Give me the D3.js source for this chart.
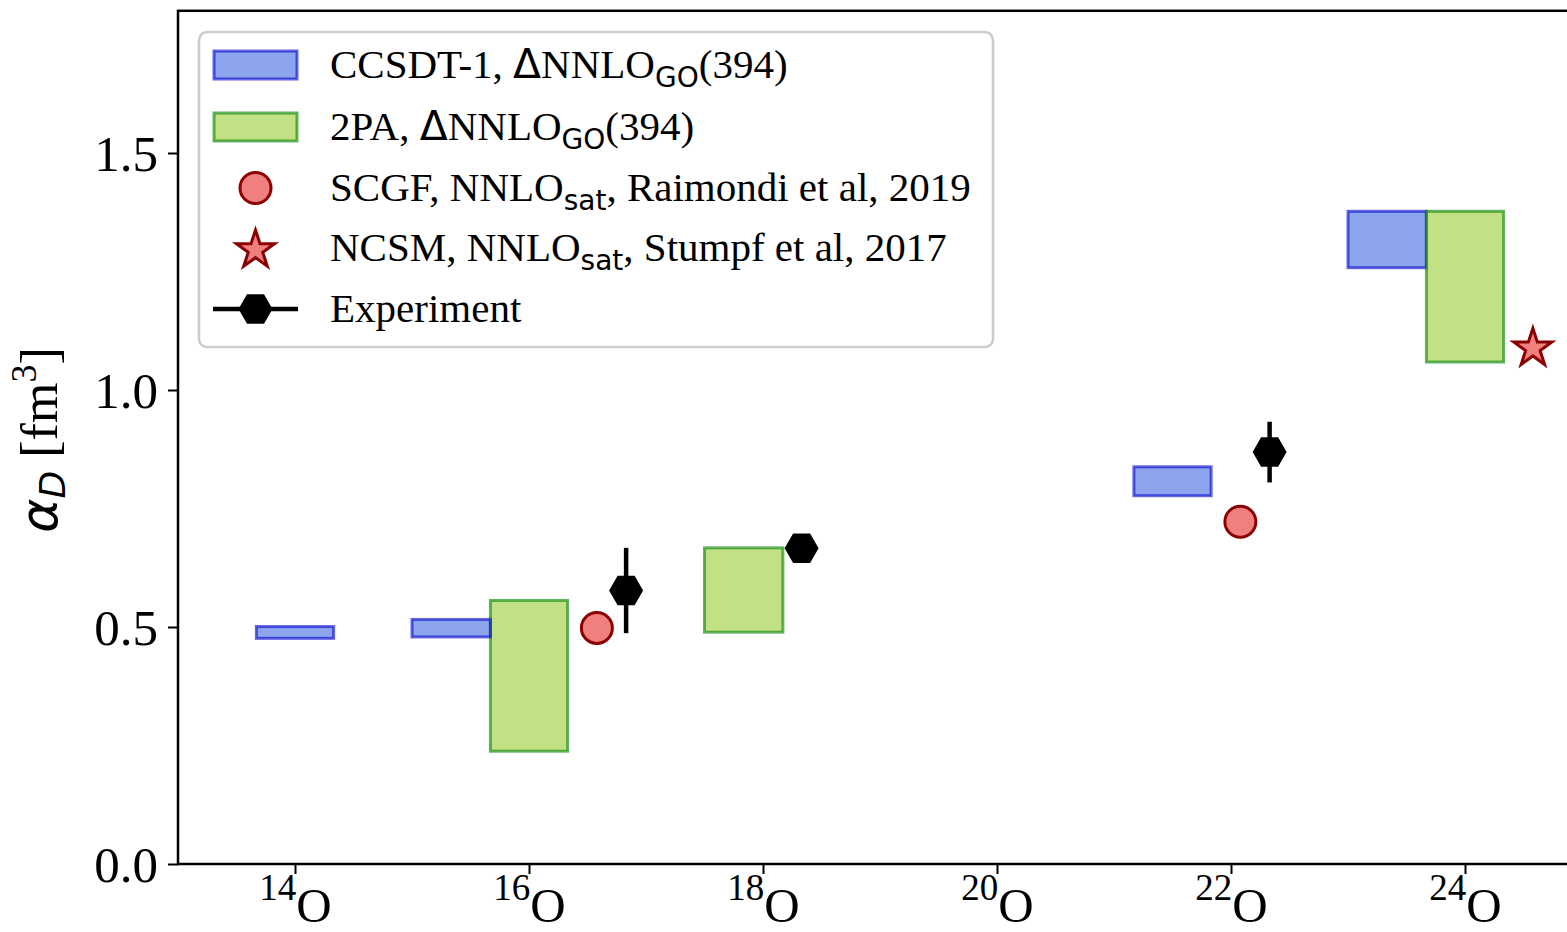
<!DOCTYPE html>
<html lang="en">
<head>
<meta charset="UTF-8">
<title>Dipole polarizability of oxygen isotopes</title>
<script src="https://d3js.org/d3.v7.min.js"></script>
<style>
    body { margin: 0; background: #fff; }
    svg { display: block; }
    .serif { font-family: "Liberation Serif", "Times New Roman", serif; }
    .sans { font-family: "DejaVu Sans", sans-serif; }
</style>
</head>
<body>
<div id="chart"></div>
<script>
    const width = 1567;
    const height = 932;

    // mass numbers shown on the x axis
    const massNumbers = [14, 16, 18, 20, 22, 24];
    const yTicks = [0.0, 0.5, 1.0, 1.5];

    // CCSDT-1 bands: x0, x1 (position on the A axis), lo, hi (fm^3)
    const ccsdt = [
        { x0: 13.67, x1: 14.33, lo: 0.476, hi: 0.501 },
        { x0: 15.00, x1: 15.67, lo: 0.479, hi: 0.516 },
        { x0: 21.17, x1: 21.83, lo: 0.777, hi: 0.838 },
        { x0: 23.00, x1: 23.67, lo: 1.258, hi: 1.377 }
    ];
    // 2PA bands
    const twoPA = [
        { x0: 15.67, x1: 16.33, lo: 0.238, hi: 0.556 },
        { x0: 17.50, x1: 18.17, lo: 0.489, hi: 0.667 },
        { x0: 23.67, x1: 24.33, lo: 1.059, hi: 1.377 }
    ];
    // SCGF, NNLOsat
    const scgf = [
        { x: 16.58, y: 0.498 },
        { x: 22.08, y: 0.722 }
    ];
    // NCSM, NNLOsat
    const ncsm = [
        { x: 24.58, y: 1.088 }
    ];
    // experiment with error
    const experiment = [
        { x: 16.83, y: 0.577, err: 0.090 },
        { x: 18.33, y: 0.666, err: 0.020 },
        { x: 22.33, y: 0.869, err: 0.064 }
    ];

    const margin = { left: 178, top: 11, bottom: 864 };
    const x = d3.scaleLinear().domain([13, 25]).range([margin.left, margin.left + 12 * 117]);
    const y = d3.scaleLinear().domain([0, 1.8]).range([margin.bottom, margin.bottom - 1.8 * 474]);

    const svg = d3.select('#chart').append('svg')
        .attr('width', width)
        .attr('height', height);

    const styles = {
        ccsdt: { fill: 'royalblue', stroke: 'mediumblue' },
        twoPA: { fill: 'yellowgreen', stroke: 'green' }
    };

    // boxes in the order they were layered in the original
    const boxes = [
        { s: 'twoPA', d: twoPA[0] },
        { s: 'ccsdt', d: ccsdt[0] },
        { s: 'ccsdt', d: ccsdt[1] },
        { s: 'twoPA', d: twoPA[1] },
        { s: 'ccsdt', d: ccsdt[2] },
        { s: 'ccsdt', d: ccsdt[3] },
        { s: 'twoPA', d: twoPA[2] }
    ];

    svg.append('g').selectAll('rect')
        .data(boxes)
        .enter().append('rect')
        .attr('x', b => x(b.d.x0))
        .attr('y', b => y(b.d.hi))
        .attr('width', b => x(b.d.x1) - x(b.d.x0))
        .attr('height', b => y(b.d.lo) - y(b.d.hi))
        .attr('fill', b => styles[b.s].fill)
        .attr('fill-opacity', 0.6)
        .attr('stroke', b => styles[b.s].stroke)
        .attr('stroke-opacity', 0.6)
        .attr('stroke-width', 3);

    function hexPath(r) {
        const pts = d3.range(6).map(i => {
            const a = i * Math.PI / 3;
            return [r * Math.cos(a), r * Math.sin(a)];
        });
        return 'M' + pts.map(p => p.join(',')).join('L') + 'Z';
    }
    function starPath(R) {
        const r = R * 0.382;
        const pts = d3.range(10).map(i => {
            const a = -Math.PI / 2 + i * Math.PI / 5;
            const rr = i % 2 === 0 ? R : r;
            return [rr * Math.cos(a), rr * Math.sin(a)];
        });
        return 'M' + pts.map(p => p.join(',')).join('L') + 'Z';
    }

    // SCGF circles
    svg.append('g').selectAll('circle')
        .data(scgf)
        .enter().append('circle')
        .attr('cx', d => x(d.x))
        .attr('cy', d => y(d.y))
        .attr('r', 15.5)
        .attr('fill', 'lightcoral')
        .attr('stroke', 'darkred')
        .attr('stroke-width', 3);

    // NCSM star
    svg.append('g').selectAll('path')
        .data(ncsm)
        .enter().append('path')
        .attr('d', starPath(20))
        .attr('transform', d => `translate(${x(d.x)},${y(d.y)})`)
        .attr('fill', 'lightcoral')
        .attr('stroke', 'darkred')
        .attr('stroke-width', 3)
        .attr('stroke-linejoin', 'miter');

    // experiment
    const exp = svg.append('g');
    exp.selectAll('line')
        .data(experiment)
        .enter().append('line')
        .attr('x1', d => x(d.x))
        .attr('x2', d => x(d.x))
        .attr('y1', d => y(d.y - d.err))
        .attr('y2', d => y(d.y + d.err))
        .attr('stroke', 'black')
        .attr('stroke-width', 4.5);
    exp.selectAll('path')
        .data(experiment)
        .enter().append('path')
        .attr('d', hexPath(17))
        .attr('transform', d => `translate(${x(d.x)},${y(d.y)})`)
        .attr('fill', 'black');

    // axes
    const yAxis = svg.append('g')
        .attr('transform', `translate(${margin.left},0)`)
        .call(d3.axisLeft(y).tickValues(yTicks).tickFormat(d3.format('.1f')).tickSize(10).tickPadding(10));
    yAxis.select('.domain').remove();
    yAxis.selectAll('.tick line').attr('stroke-width', 2);
    yAxis.selectAll('.tick text')
        .attr('class', 'serif')
        .attr('font-size', 51)
        .attr('fill', 'black')
        .attr('dy', '0.34em');

    const xAxis = svg.append('g')
        .attr('transform', `translate(0,${margin.bottom})`)
        .call(d3.axisBottom(x).tickValues(massNumbers).tickFormat('').tickSize(10));
    xAxis.select('.domain').remove();
    xAxis.selectAll('.tick line').attr('stroke-width', 2);
    xAxis.selectAll('.tick').append('text')
        .attr('class', 'serif')
        .attr('text-anchor', 'middle')
        .attr('fill', 'black')
        .attr('x', 0)
        .attr('y', 58)
        .each(function(d) {
            const t = d3.select(this);
            t.append('tspan').attr('font-size', 37).attr('dy', -22).text(d);
            t.append('tspan').attr('font-size', 49).attr('dy', 22).text('O');
        });

    // frame
    svg.append('rect')
        .attr('x', x(13))
        .attr('y', y(1.8))
        .attr('width', x(25) - x(13))
        .attr('height', y(0) - y(1.8))
        .attr('fill', 'none')
        .attr('stroke', 'black')
        .attr('stroke-width', 2.5);

    // y label
    const ylab = svg.append('text')
        .attr('transform', 'translate(57,440) rotate(-90)')
        .attr('text-anchor', 'middle')
        .attr('font-size', 52)
        .attr('fill', 'black');
    ylab.append('tspan').attr('class', 'sans').attr('font-style', 'italic').text('α');
    ylab.append('tspan').attr('class', 'sans').attr('font-style', 'italic')
        .attr('font-size', 36).attr('dy', 8).text('D');
    ylab.append('tspan').attr('class', 'serif').attr('dy', -8).text(' [fm');
    ylab.append('tspan').attr('class', 'serif').attr('font-size', 36).attr('dy', -21).text('3');
    ylab.append('tspan').attr('class', 'serif').attr('dy', 21).text(']');

    // legend
    const legend = svg.append('g');
    legend.append('rect')
        .attr('x', 199).attr('y', 32)
        .attr('width', 794).attr('height', 315)
        .attr('rx', 8)
        .attr('fill', 'white').attr('fill-opacity', 0.8)
        .attr('stroke', '#cccccc').attr('stroke-width', 2.5);

    const rowY = [65, 127, 188, 248, 309];
    const labels = [
        [['CCSDT-1, ', 'serif'], ['Δ', 'sans'], ['NNLO', 'serif'], ['GO', 'sub'], ['(394)', 'serif']],
        [['2PA, ', 'serif'], ['Δ', 'sans'], ['NNLO', 'serif'], ['GO', 'sub'], ['(394)', 'serif']],
        [['SCGF, NNLO', 'serif'], ['sat', 'sub'], [', Raimondi et al, 2019', 'serif']],
        [['NCSM, NNLO', 'serif'], ['sat', 'sub'], [', Stumpf et al, 2017', 'serif']],
        [['Experiment', 'serif']]
    ];

    [styles.ccsdt, styles.twoPA].forEach((s, i) => {
        legend.append('rect')
            .attr('x', 214).attr('y', rowY[i] - 14)
            .attr('width', 83).attr('height', 28)
            .attr('fill', s.fill).attr('fill-opacity', 0.6)
            .attr('stroke', s.stroke).attr('stroke-opacity', 0.6)
            .attr('stroke-width', 3);
    });
    legend.append('circle')
        .attr('cx', 255.5).attr('cy', rowY[2]).attr('r', 15.5)
        .attr('fill', 'lightcoral').attr('stroke', 'darkred').attr('stroke-width', 3);
    legend.append('path')
        .attr('d', starPath(20))
        .attr('transform', `translate(255.5,${rowY[3] + 2})`)
        .attr('fill', 'lightcoral').attr('stroke', 'darkred').attr('stroke-width', 3);
    legend.append('line')
        .attr('x1', 213).attr('x2', 298)
        .attr('y1', rowY[4]).attr('y2', rowY[4])
        .attr('stroke', 'black').attr('stroke-width', 4.5);
    legend.append('path')
        .attr('d', hexPath(17))
        .attr('transform', `translate(255.5,${rowY[4]})`)
        .attr('fill', 'black');

    labels.forEach((parts, i) => {
        const t = legend.append('text')
            .attr('x', 330).attr('y', rowY[i] + 13)
            .attr('font-size', 41)
            .attr('fill', 'black');
        let shifted = false;
        parts.forEach(([txt, kind]) => {
            const sp = t.append('tspan').text(txt);
            if (kind === 'sub') {
                sp.attr('class', 'sans').attr('font-size', 28).attr('dy', 9);
                shifted = true;
            } else {
                sp.attr('class', kind);
                if (shifted) { sp.attr('dy', -9); shifted = false; }
            }
        });
    });
</script>
</body>
</html>
